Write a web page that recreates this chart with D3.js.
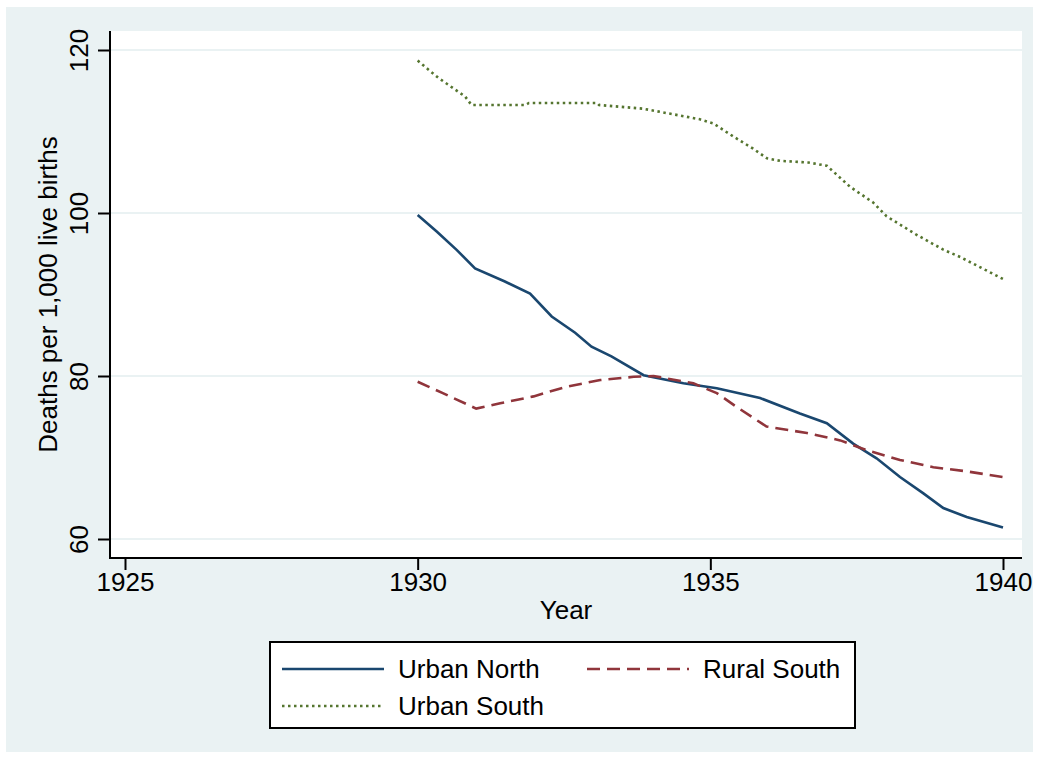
<!DOCTYPE html>
<html>
<head>
<meta charset="utf-8">
<script src="https://cdn.jsdelivr.net/npm/d3@7"></script>
<style>
    body { margin: 0; background: #fff; }
    svg { display: block; font-family: 'Liberation Sans', Arial, sans-serif; }
</style>
</head>
<body>
<div id="chart"></div>
<script>
// series: year, deaths per 1,000 live births
const urbanNorthYears = [1930, 1930.33, 1930.67, 1930.98, 1931.49, 1931.92, 1932.29, 1932.69, 1932.97, 1933.31, 1933.86,
    1934.54, 1935.11, 1935.85, 1936.53, 1936.99, 1937.44, 1937.84, 1938.24, 1938.64, 1938.98, 1939.38, 1940];
const urbanNorthValues = [99.75, 97.7, 95.45, 93.2, 91.6, 90.1, 87.3, 85.3, 83.6, 82.4, 80.1,
    79.1, 78.5, 77.3, 75.4, 74.2, 71.7, 69.9, 67.6, 65.6, 63.8, 62.7, 61.4];

const ruralSouthYears = [1930, 1930.43, 1931, 1931.41, 1931.98, 1932.55, 1933.12, 1933.69, 1934.03, 1934.71, 1935.11,
    1935.45, 1935.96, 1936.65, 1937.22, 1937.67, 1938.24, 1938.81, 1939.38, 1940];
const ruralSouthValues = [79.3, 77.9, 76.0, 76.65, 77.5, 78.7, 79.5, 79.9, 80.0, 79.1, 77.9,
    76.2, 73.8, 73.0, 72.1, 70.9, 69.7, 68.8, 68.3, 67.6];

const urbanSouthYears = [1930, 1930.35, 1930.81, 1930.92, 1931.84, 1931.9, 1933.07, 1933.1, 1933.85, 1934.3, 1934.82,
    1935.05, 1935.39, 1935.73, 1935.97, 1936.19, 1936.67, 1936.99, 1937.39, 1937.78, 1938.01, 1938.53, 1938.98, 1939.27, 1940];
const urbanSouthValues = [118.7, 116.6, 114.3, 113.25, 113.25, 113.5, 113.5, 113.25, 112.8, 112.2, 111.5,
    111.0, 109.4, 107.9, 106.7, 106.4, 106.2, 105.8, 103.2, 101.3, 99.6, 97.3, 95.5, 94.6, 91.9];

const xTicks = [1925, 1930, 1935, 1940];
const yTicks = [60, 80, 100, 120];

const seriesNames = ['Urban North', 'Rural South', 'Urban South'];

const width = 1039,
    height = 758,
    plot = { left: 110, right: 1022, top: 31, bottom: 558 },
    bgColor = '#eaf2f3',
    fontSize = 26;

const series = [
    { name: seriesNames[0], years: urbanNorthYears, values: urbanNorthValues, color: '#1a476f', dash: null },
    { name: seriesNames[1], years: ruralSouthYears, values: ruralSouthValues, color: '#90353b', dash: '13,7' },
    { name: seriesNames[2], years: urbanSouthYears, values: urbanSouthValues, color: '#55752f', dash: '2.5,3.5' }
];

let svg = d3.select('#chart').append('svg')
    .attr('width', width)
    .attr('height', height);

// outer graph region
svg.append('rect')
    .attr('x', 6).attr('y', 7)
    .attr('width', 1027).attr('height', 745)
    .attr('fill', bgColor);

// plot region
svg.append('rect')
    .attr('x', plot.left).attr('y', plot.top)
    .attr('width', plot.right - plot.left).attr('height', plot.bottom - plot.top)
    .attr('fill', '#fff');

let x = d3.scaleLinear().domain([1925, 1940]).range([125, 1003]);
let y = d3.scaleLinear().domain([60, 120]).range([539, 50]);

// gridlines
svg.append('g')
    .selectAll('line')
    .data(yTicks)
    .enter()
    .append('line')
    .attr('x1', plot.left).attr('x2', plot.right)
    .attr('y1', (d) => y(d)).attr('y2', (d) => y(d))
    .attr('stroke', bgColor)
    .attr('stroke-width', 2);

// lines
let line = d3.line()
    .x((d) => x(d[0]))
    .y((d) => y(d[1]));

svg.append('g')
    .selectAll('path')
    .data(series)
    .enter()
    .append('path')
    .attr('d', (s) => line(s.years.map((yr, i) => [yr, s.values[i]])))
    .attr('fill', 'none')
    .attr('stroke', (s) => s.color)
    .attr('stroke-width', 2.6)
    .attr('stroke-dasharray', (s) => s.dash);

// axes
let xAxis = d3.axisBottom(x).tickValues(xTicks).tickSize(12).tickFormat(d3.format('d'));
let yAxis = d3.axisLeft(y).tickValues(yTicks).tickSize(12).tickFormat(d3.format('d'));

let gx = svg.append('g')
    .attr('transform', `translate(0, ${plot.bottom})`)
    .call(xAxis);

let gy = svg.append('g')
    .attr('transform', `translate(${plot.left}, 0)`)
    .call(yAxis);

[gx, gy].forEach((g) => {
    g.select('.domain').remove();
    g.selectAll('line').attr('stroke', '#000').attr('stroke-width', 2);
    g.selectAll('text')
        .attr('fill', '#000')
        .attr('font-size', fontSize)
        .attr('font-family', "'Liberation Sans', Arial, sans-serif");
});

gx.selectAll('text').attr('y', 33).attr('dy', null);

// vertical tick labels, Stata style
gy.selectAll('text')
    .attr('x', null).attr('dy', null)
    .attr('text-anchor', 'middle')
    .attr('transform', 'translate(-22, 0) rotate(-90)');

svg.append('line')
    .attr('x1', plot.left).attr('x2', plot.left)
    .attr('y1', plot.top).attr('y2', plot.bottom + 1)
    .attr('stroke', '#000').attr('stroke-width', 2);

svg.append('line')
    .attr('x1', plot.left - 1).attr('x2', plot.right)
    .attr('y1', plot.bottom).attr('y2', plot.bottom)
    .attr('stroke', '#000').attr('stroke-width', 2);

// axis titles
svg.append('text')
    .attr('x', (plot.left + plot.right) / 2)
    .attr('y', 619)
    .attr('text-anchor', 'middle')
    .attr('font-size', fontSize)
    .text('Year');

svg.append('text')
    .attr('transform', `translate(57, ${(plot.top + plot.bottom) / 2}) rotate(-90)`)
    .attr('text-anchor', 'middle')
    .attr('font-size', fontSize)
    .text('Deaths per 1,000 live births');

// legend
let legend = svg.append('g');

legend.append('rect')
    .attr('x', 270).attr('y', 642)
    .attr('width', 585).attr('height', 86)
    .attr('fill', '#fff')
    .attr('stroke', '#000')
    .attr('stroke-width', 2);

let legendPos = [[282, 669], [587, 669], [282, 706]];

let item = legend.selectAll('g')
    .data(series)
    .enter()
    .append('g')
    .attr('transform', (s, i) => `translate(${legendPos[i][0]}, ${legendPos[i][1]})`);

item.append('line')
    .attr('x1', 0).attr('x2', 102)
    .attr('stroke', (s) => s.color)
    .attr('stroke-width', 2.6)
    .attr('stroke-dasharray', (s) => s.dash);

item.append('text')
    .attr('x', 116)
    .attr('y', 9)
    .attr('font-size', fontSize)
    .text((s) => s.name);
</script>
</body>
</html>
